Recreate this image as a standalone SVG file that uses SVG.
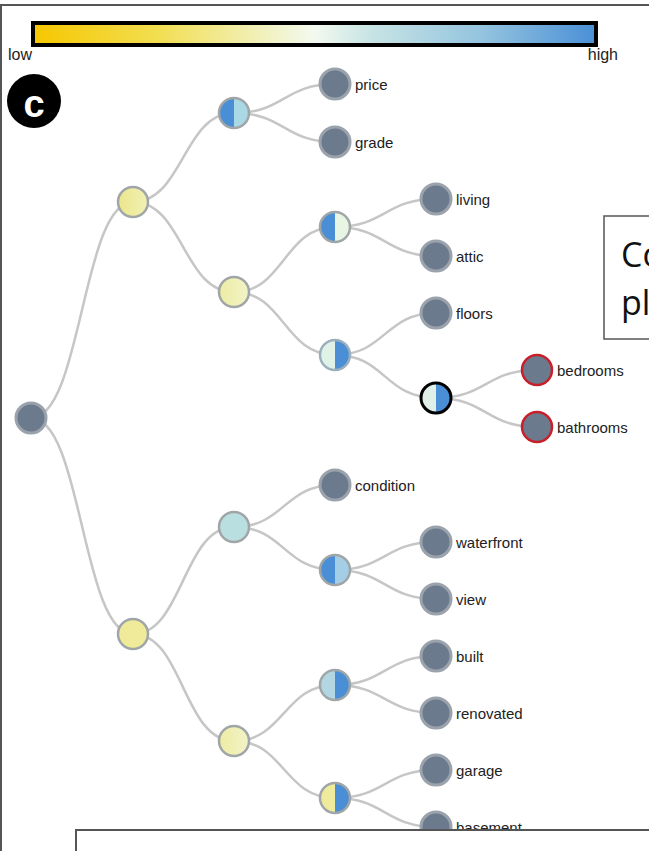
<svg xmlns="http://www.w3.org/2000/svg" width="649" height="851" viewBox="0 0 649 851">
<defs>
<linearGradient id="cbar" x1="0" y1="0" x2="1" y2="0">
<stop offset="0" stop-color="#f6c700"/>
<stop offset="0.22" stop-color="#f2de50"/>
<stop offset="0.4" stop-color="#f1f0b8"/>
<stop offset="0.5" stop-color="#f3f9f0"/>
<stop offset="0.6" stop-color="#c7e4e4"/>
<stop offset="0.8" stop-color="#93c3df"/>
<stop offset="1" stop-color="#4a8fd6"/>
</linearGradient>
<linearGradient id="ylw" x1="0" y1="0" x2="1" y2="0">
<stop offset="0" stop-color="#ebe68e"/>
<stop offset="1" stop-color="#f2f0b4"/>
</linearGradient>
<linearGradient id="ylw2" x1="0" y1="0" x2="1" y2="0">
<stop offset="0" stop-color="#eeeca4"/>
<stop offset="1" stop-color="#f1f3c8"/>
</linearGradient>
</defs>
<style>
.lnk{fill:none;stroke:#c6c6c6;stroke-width:2.5}
.nd{stroke:#a0a6a8;stroke-width:2.5}
.leaf{fill:#6c7a8e;stroke:#9aa2ac;stroke-width:3}
.red{fill:#6c7a8e;stroke:#c8202a;stroke-width:2.5}
.ring{fill:none;stroke:#a0a6a8;stroke-width:2.5}
.lbl{font-family:"Liberation Sans",Arial,sans-serif;font-size:15px;fill:#222}
.big{font-family:"Open Sans","Noto Sans",sans-serif;font-size:34px;fill:#111}
.blue{fill:#4a8fd6}
</style>
<rect width="649" height="851" fill="#fff"/>
<path d="M1,851 V5 H649" fill="none" stroke="#555" stroke-width="2"/>
<g id="colorbar">
<rect x="33" y="23" width="563" height="22" fill="url(#cbar)" stroke="#000" stroke-width="4"/>
<text x="8" y="60" class="lbl" style="font-size:16px">low</text>
<text x="618" y="60" class="lbl" style="font-size:16px" text-anchor="end">high</text>
</g>
<g id="badge">
<circle cx="34" cy="101" r="27" fill="#000"/>
<text x="34" y="117" text-anchor="middle" font-family="Liberation Sans,Arial,sans-serif" font-weight="bold" font-size="38" fill="#fff">c</text>
</g>
<g id="connectors">
<path class="lnk" d="M31,418 C82,418 82,202 133,202"/>
<path class="lnk" d="M31,418 C82,418 82,634 133,634"/>
<path class="lnk" d="M133,202 C183,202 183,113 234,113"/>
<path class="lnk" d="M133,202 C183,202 183,292 234,292"/>
<path class="lnk" d="M234,113 C284,113 284,84 335,84"/>
<path class="lnk" d="M234,113 C284,113 284,142 335,142"/>
<path class="lnk" d="M234,292 C284,292 284,227 335,227"/>
<path class="lnk" d="M234,292 C284,292 284,355 335,355"/>
<path class="lnk" d="M335,227 C385,227 385,199 436,199"/>
<path class="lnk" d="M335,227 C385,227 385,256 436,256"/>
<path class="lnk" d="M335,355 C385,355 385,313 436,313"/>
<path class="lnk" d="M335,355 C385,355 385,398 436,398"/>
<path class="lnk" d="M436,398 C486,398 486,370 537,370"/>
<path class="lnk" d="M436,398 C486,398 486,427 537,427"/>
<path class="lnk" d="M133,634 C183,634 183,527 234,527"/>
<path class="lnk" d="M133,634 C183,634 183,741 234,741"/>
<path class="lnk" d="M234,527 C284,527 284,485 335,485"/>
<path class="lnk" d="M234,527 C284,527 284,570 335,570"/>
<path class="lnk" d="M335,570 C385,570 385,542 436,542"/>
<path class="lnk" d="M335,570 C385,570 385,599 436,599"/>
<path class="lnk" d="M234,741 C284,741 284,685 335,685"/>
<path class="lnk" d="M234,741 C284,741 284,798 335,798"/>
<path class="lnk" d="M335,685 C385,685 385,656 436,656"/>
<path class="lnk" d="M335,685 C385,685 385,713 436,713"/>
<path class="lnk" d="M335,798 C385,798 385,770 436,770"/>
<path class="lnk" d="M335,798 C385,798 385,827 436,827"/>
</g>
<g id="root"><circle cx="31" cy="418" r="15" class="leaf"/></g>
<g id="nA"><circle cx="133" cy="202" r="15" class="nd" fill="url(#ylw)"/></g>
<g id="nB"><circle cx="133" cy="634" r="15" class="nd" fill="#efeb9a"/></g>
<g id="nA1">
<circle cx="234" cy="113" r="15" fill="#aad8e4"/>
<path class="blue" d="M234,98 A15,15 0 0 0 234,128 Z"/>
<circle cx="234" cy="113" r="15" class="ring"/>
</g>
<g id="nA2"><circle cx="234" cy="292" r="15" class="nd" fill="url(#ylw2)"/></g>
<g id="nA2a">
<circle cx="335" cy="227" r="15" fill="#e8f5e2"/>
<path class="blue" d="M335,212 A15,15 0 0 0 335,242 Z"/>
<circle cx="335" cy="227" r="15" class="ring"/>
</g>
<g id="nA2b">
<circle cx="335" cy="355" r="15" fill="#e0f2e8"/>
<path class="blue" d="M335,340 A15,15 0 0 1 335,370 Z"/>
<circle cx="335" cy="355" r="15" class="ring" style="stroke:#9bb0bc"/>
</g>
<g id="nA2b2">
<circle cx="436" cy="398" r="15" fill="#dff0e8"/>
<path class="blue" d="M436,383 A15,15 0 0 1 436,413 Z"/>
<circle cx="436" cy="398" r="15" fill="none" stroke="#000" stroke-width="3"/>
</g>
<g id="nB1"><circle cx="234" cy="527" r="15" class="nd" fill="#badfe0"/></g>
<g id="nB1b">
<circle cx="335" cy="570" r="15" fill="#a3cee6"/>
<path class="blue" d="M335,555 A15,15 0 0 0 335,585 Z"/>
<circle cx="335" cy="570" r="15" class="ring"/>
</g>
<g id="nB2"><circle cx="234" cy="741" r="15" class="nd" fill="url(#ylw2)"/></g>
<g id="nB2a">
<circle cx="335" cy="685" r="15" fill="#b2d7e2"/>
<path class="blue" d="M335,670 A15,15 0 0 1 335,700 Z"/>
<circle cx="335" cy="685" r="15" class="ring"/>
</g>
<g id="nB2b">
<circle cx="335" cy="798" r="15" fill="#eeeb9c"/>
<path class="blue" d="M335,783 A15,15 0 0 1 335,813 Z"/>
<circle cx="335" cy="798" r="15" class="ring"/>
</g>
<g id="price"><circle cx="335" cy="84" r="15" class="leaf"/><text x="355" y="90" class="lbl">price</text></g>
<g id="grade"><circle cx="335" cy="142" r="15" class="leaf"/><text x="355" y="148" class="lbl">grade</text></g>
<g id="living"><circle cx="436" cy="199" r="15" class="leaf"/><text x="456" y="205" class="lbl">living</text></g>
<g id="attic"><circle cx="436" cy="256" r="15" class="leaf"/><text x="456" y="262" class="lbl">attic</text></g>
<g id="floors"><circle cx="436" cy="313" r="15" class="leaf"/><text x="456" y="319" class="lbl">floors</text></g>
<g id="bedrooms"><circle cx="537" cy="370" r="15" class="red"/><text x="557" y="376" class="lbl">bedrooms</text></g>
<g id="bathrooms"><circle cx="537" cy="427" r="15" class="red"/><text x="557" y="433" class="lbl">bathrooms</text></g>
<g id="condition"><circle cx="335" cy="485" r="15" class="leaf"/><text x="355" y="491" class="lbl">condition</text></g>
<g id="waterfront"><circle cx="436" cy="542" r="15" class="leaf"/><text x="456" y="548" class="lbl">waterfront</text></g>
<g id="view"><circle cx="436" cy="599" r="15" class="leaf"/><text x="456" y="605" class="lbl">view</text></g>
<g id="built"><circle cx="436" cy="656" r="15" class="leaf"/><text x="456" y="662" class="lbl">built</text></g>
<g id="renovated"><circle cx="436" cy="713" r="15" class="leaf"/><text x="456" y="719" class="lbl">renovated</text></g>
<g id="garage"><circle cx="436" cy="770" r="15" class="leaf"/><text x="456" y="776" class="lbl">garage</text></g>
<g id="basement"><circle cx="436" cy="827" r="15" class="leaf"/><text x="456" y="833" class="lbl">basement</text></g>
<g id="sidebox">
<rect x="604" y="216" width="60" height="123" fill="#fff" stroke="#555" stroke-width="1.5"/>
<text x="621" y="267" class="big">Co</text>
<text x="621" y="315" class="big">pl</text>
</g>
<g id="bottombox">
<rect x="76" y="830" width="600" height="40" fill="#fff" stroke="#555" stroke-width="2"/>
</g>
</svg>
